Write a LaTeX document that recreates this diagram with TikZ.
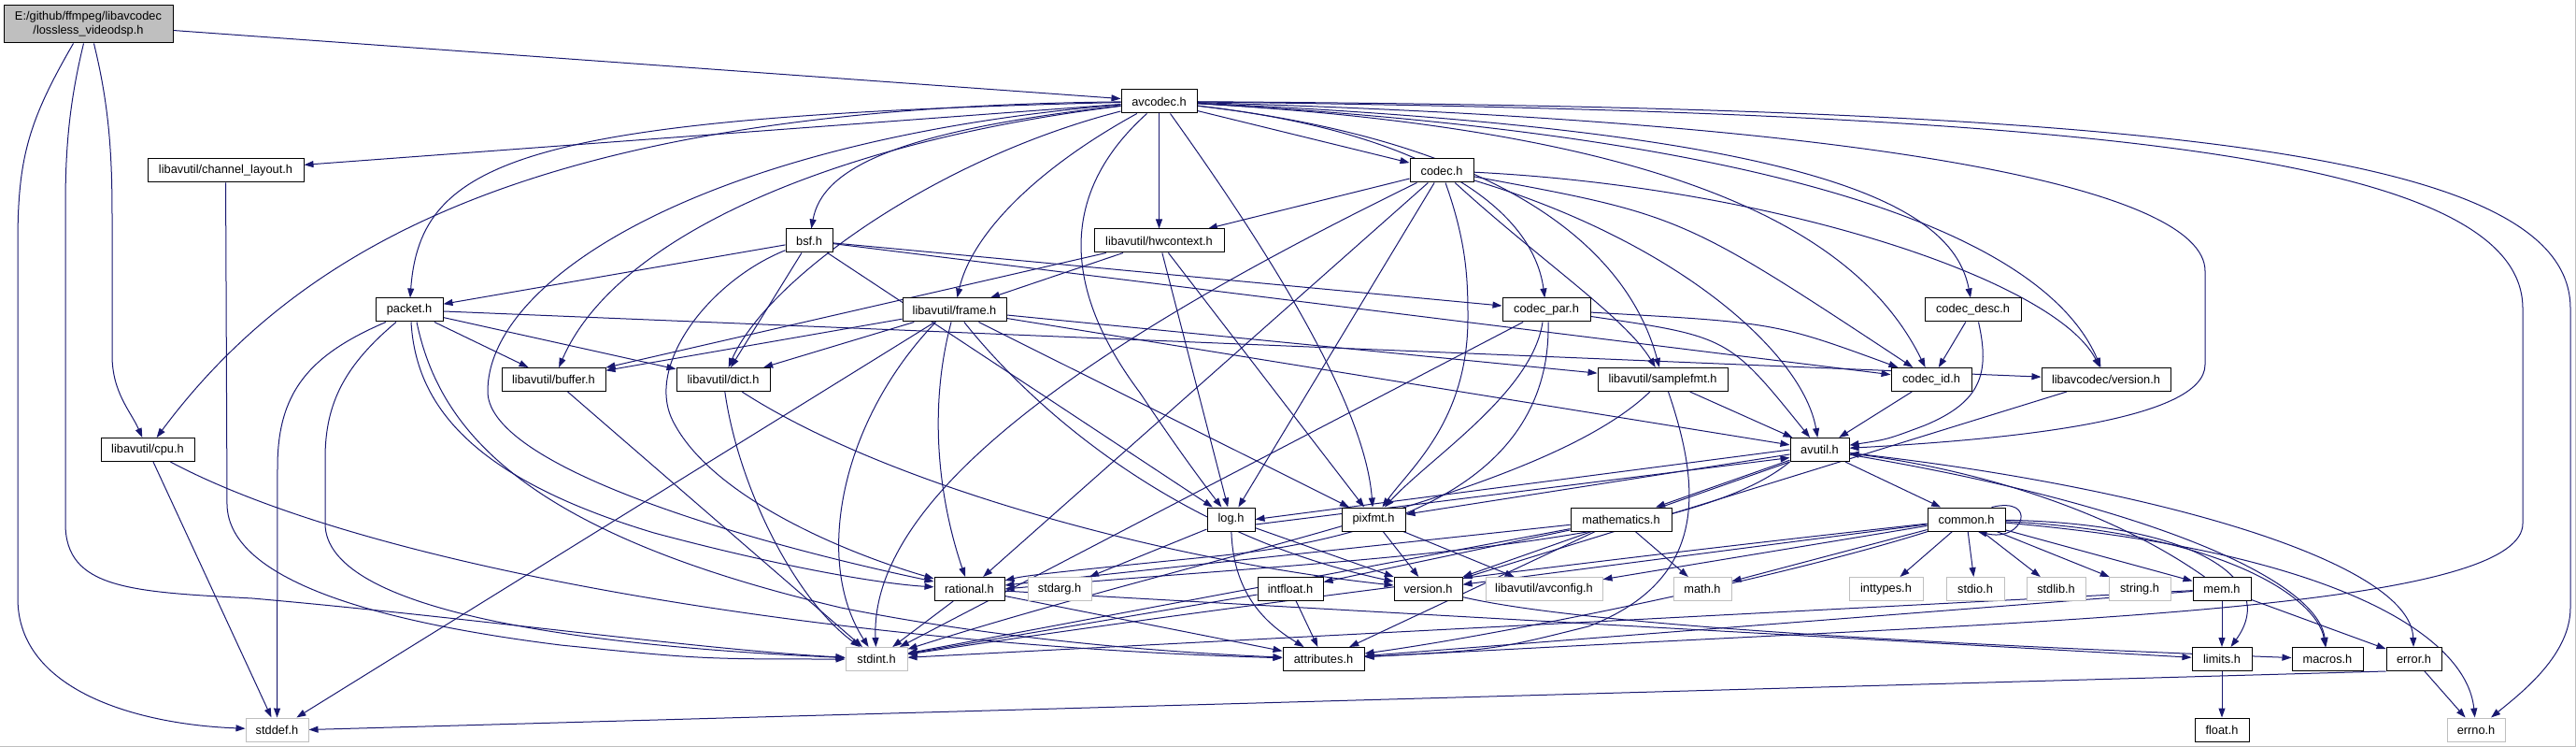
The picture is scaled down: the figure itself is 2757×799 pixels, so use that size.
\documentclass[tikz,border=0pt]{standalone}
\usepackage{fontspec}
\setmainfont{Liberation Sans}
\usetikzlibrary{arrows.meta,backgrounds}
\definecolor{edgec}{HTML}{191970}
\definecolor{sysgray}{HTML}{BFBFBF}
\begin{document}
\begin{tikzpicture}[x=1pt,y=-1pt,
  box/.style={draw=black, line width=1pt, fill=white, minimum height=25pt, inner sep=0pt, font=\fontsize{12.8}{15}\selectfont},
  sysbox/.style={box, draw=sysgray},
  rootbox/.style={box, fill=sysgray, minimum height=40pt, align=center},
  e/.style={draw=edgec, line width=1pt, -{Triangle[length=10pt,width=7pt]}}]
\useasboundingbox (0,0) rectangle (2757,799);
% ---------------- nodes ----------------
\node[rootbox, minimum width=181pt] (root) at (94.5,26) {E:/github/ffmpeg/libavcodec\\/lossless\_videodsp.h};
\node[box, minimum width=81pt]  (avcodec) at (1240.5,108.5) {avcodec.h};
\node[box, minimum width=167pt] (chl) at (241.5,182.5) {libavutil/channel\_layout.h};
\node[box, minimum width=68pt]  (codec) at (1543,182.5) {codec.h};
\node[box, minimum width=50pt]  (bsf) at (866,257.5) {bsf.h};
\node[box, minimum width=139pt] (hwc) at (1240.5,257.5) {libavutil/hwcontext.h};
\node[box, minimum width=72pt]  (packet) at (438,331.5) {packet.h};
\node[box, minimum width=111pt] (frame) at (1021.5,331.5) {libavutil/frame.h};
\node[box, minimum width=94pt]  (cpar) at (1655,331.5) {codec\_par.h};
\node[box, minimum width=103pt] (cdesc) at (2111.5,331.5) {codec\_desc.h};
\node[box, minimum width=111pt] (buffer) at (592.5,406) {libavutil/buffer.h};
\node[box, minimum width=100pt] (dict) at (774,406) {libavutil/dict.h};
\node[box, minimum width=139pt] (sfmt) at (1779.5,406) {libavutil/samplefmt.h};
\node[box, minimum width=86pt]  (cid) at (2067,406) {codec\_id.h};
\node[box, minimum width=138pt] (lvers) at (2254,406) {libavcodec/version.h};
\node[box, minimum width=100pt] (cpu) at (158,481) {libavutil/cpu.h};
\node[box, minimum width=63pt]  (avutil) at (1947.5,481) {avutil.h};
\node[box, minimum width=51pt]  (log) at (1317.5,555.5) {log.h};
\node[box, minimum width=68pt]  (pixfmt) at (1470,555.5) {pixfmt.h};
\node[box, minimum width=108pt] (math) at (1735,555.5) {mathematics.h};
\node[box, minimum width=83pt]  (common) at (2104.5,555.5) {common.h};
\node[box, minimum width=75pt]  (rational) at (1037.5,630) {rational.h};
\node[sysbox, minimum width=68pt] (stdarg) at (1134,630) {stdarg.h};
\node[box, minimum width=70pt]  (intfloat) at (1381,630) {intfloat.h};
\node[box, minimum width=73pt]  (version) at (1528.5,630) {version.h};
\node[sysbox, minimum width=125pt] (avconfig) at (1652.5,630) {libavutil/avconfig.h};
\node[sysbox, minimum width=62pt] (mathh) at (1822,630) {math.h};
\node[sysbox, minimum width=79pt] (inttypes) at (2018.5,630) {inttypes.h};
\node[sysbox, minimum width=62pt] (stdio) at (2114,630) {stdio.h};
\node[sysbox, minimum width=63pt] (stdlib) at (2200.5,630) {stdlib.h};
\node[sysbox, minimum width=66pt] (stringh) at (2290,630) {string.h};
\node[box, minimum width=62pt]  (mem) at (2378,630) {mem.h};
\node[sysbox, minimum width=66pt] (stdint) at (938,705) {stdint.h};
\node[box, minimum width=87pt]  (attr) at (1416.5,705) {attributes.h};
\node[box, minimum width=64pt]  (limits) at (2378,705) {limits.h};
\node[box, minimum width=76pt]  (macros) at (2491,705) {macros.h};
\node[box, minimum width=59pt]  (error) at (2583.5,705) {error.h};
\node[sysbox, minimum width=67pt] (stddef) at (296.5,780.5) {stddef.h};
\node[box, minimum width=58pt]  (float) at (2378,780.5) {float.h};
\node[sysbox, minimum width=62pt] (errno) at (2650,780.5) {errno.h};
% ---------------- edges ----------------
\begin{pgfonlayer}{background}
% root
\draw[e] (root) -- (avcodec);
\draw[e] ([xshift=-16]root.south) .. controls (30,130) and (19,170) .. (19,260) -- (19,640) .. controls (19,740) and (150,775) .. (stddef);
\draw[e] ([xshift=-5]root.south) .. controls (74,110) and (70,160) .. (70,220) -- (70,560) .. controls (70,630) and (140,633) .. (270,640) .. controls (500,660) and (750,695) .. (stdint);
\draw[e] ([xshift=6]root.south) .. controls (116,110) and (120,160) .. (120,230) -- (120,380) .. controls (120,420) and (140,440) .. (cpu);
% avcodec
\draw[e] (avcodec) -- (chl);
\draw[e] (avcodec) .. controls (600,115) and (330,250) .. (cpu);
\draw[e] (avcodec) .. controls (560,125) and (450,170) .. (packet);
\draw[e] (avcodec) .. controls (900,150) and (660,250) .. (buffer);
\draw[e] (avcodec) .. controls (1000,170) and (820,300) .. (dict);
\draw[e] (avcodec) .. controls (750,150) and (520,300) .. (522,420) .. controls (525,500) and (800,580) .. (rational);
\draw[e] (avcodec) .. controls (1110,180) and (1040,250) .. (frame);
\draw[e] ([xshift=-13]avcodec.south) .. controls (1140,200) and (1130,300) .. (1220,420) .. controls (1260,480) and (1290,520) .. (log);
\draw[e] (avcodec) -- (hwc);
\draw[e] ([xshift=12]avcodec.south) .. controls (1330,230) and (1460,420) .. (pixfmt);
\draw[e] (avcodec) -- (codec);
\draw[e] (avcodec) .. controls (960,140) and (880,180) .. (bsf);
\draw[e] (avcodec) .. controls (1520,140) and (1640,220) .. (cpar);
\draw[e] (avcodec) .. controls (1600,150) and (1740,260) .. (sfmt);
\draw[e] (avcodec) .. controls (1800,140) and (1990,250) .. (cid);
\draw[e] (avcodec) .. controls (1950,140) and (2090,220) .. (cdesc);
\draw[e] (avcodec) .. controls (2000,150) and (2200,280) .. (lvers);
\draw[e] (avcodec) .. controls (2000,130) and (2360,200) .. (2360,290) -- (2360,390) .. controls (2360,450) and (2150,470) .. (avutil);
\draw[e] (avcodec) .. controls (2200,120) and (2700,160) .. (2700,330) -- (2700,560) .. controls (2700,640) and (2300,660) .. (1900,680) .. controls (1700,690) .. (attr);
\draw[e] (avcodec) .. controls (2300,115) and (2751,160) .. (2751,330) -- (2751,650) .. controls (2751,700) and (2700,740) .. (errno);
% codec
\draw[e] (codec) -- (hwc);
\draw[e] (codec) .. controls (1200,350) and (930,520) .. (stdint);
\draw[e] (codec) -- (rational);
\draw[e] (codec) -- (log);
\draw[e] ([xshift=4]codec.south) .. controls (1570,260) and (1571,300) .. (1571,340) .. controls (1571,450) and (1510,500) .. (pixfmt);
\draw[e] (codec) .. controls (1650,280) and (1740,340) .. (sfmt);
\draw[e] (codec) .. controls (1800,230) .. (cid);
\draw[e] (codec) .. controls (1900,200) and (2200,300) .. (lvers);
\draw[e] (codec) .. controls (1800,260) and (1930,380) .. (avutil);
% bsf
\draw[e] (bsf) -- (packet);
\draw[e] (bsf) -- (dict);
\draw[e] (bsf) .. controls (760,300) and (690,390) .. (720,450) .. controls (760,530) and (900,590) .. (rational);
\draw[e] (bsf) -- (log);
\draw[e] (bsf) -- (cpar);
\draw[e] (bsf) -- (cid);
% hwcontext
\draw[e] (hwc) -- (buffer);
\draw[e] (hwc) -- (frame);
\draw[e] (hwc) -- (log);
\draw[e] (hwc) -- (pixfmt);
% packet
\draw[e] (packet) -- (lvers);
\draw[e] (packet) -- (dict);
\draw[e] (packet) -- (buffer);
\draw[e] ([xshift=-25]packet.south) .. controls (330,380) and (297,420) .. (297,500) -- (stddef);
\draw[e] ([xshift=-14]packet.south) .. controls (370,390) and (348,430) .. (348,490) -- (348,560) .. controls (348,650) and (600,690) .. (stdint);
\draw[e] ([xshift=2]packet.south) .. controls (445,430) and (500,510) .. (700,570) .. controls (850,610) and (950,625) .. (rational);
\draw[e] ([xshift=8]packet.south) .. controls (470,460) and (560,570) .. (900,650) .. controls (1100,690) and (1300,700) .. (attr);
% frame
\draw[e] (frame) -- (buffer);
\draw[e] (frame) -- (dict);
\draw[e] (frame) -- (stddef);
\draw[e] ([xshift=-20]frame.south) .. controls (900,450) and (870,600) .. (stdint);
\draw[e] (frame) .. controls (990,450) and (1010,550) .. (rational);
\draw[e] (frame) -- (pixfmt);
\draw[e] (frame) .. controls (1100,430) and (1250,570) .. (version);
\draw[e] (frame) -- (sfmt);
\draw[e] (frame) -- (avutil);
% codec_par
\draw[e] (cpar) -- (stdint);
\draw[e] ([xshift=-4]cpar.south) .. controls (1640,420) and (1530,490) .. (pixfmt);
\draw[e] ([xshift=2]cpar.south) .. controls (1660,480) and (1550,570) .. (1300,595) .. controls (1150,610) and (1100,615) .. (rational);
\draw[e] (cpar) .. controls (1850,360) .. (avutil);
\draw[e] (cpar) .. controls (1900,345) .. (cid);
% codec_desc
\draw[e] (cdesc) -- (cid);
\draw[e] ([xshift=6]cdesc.south) .. controls (2130,400) and (2120,430) .. (2060,455) .. controls (2020,470) .. (avutil);
% rank 5
\draw[e] (buffer) -- (stdint);
\draw[e] (dict) .. controls (790,520) and (850,640) .. (stdint);
\draw[e] (dict) .. controls (950,520) and (1250,600) .. (version);
\draw[e] (sfmt) .. controls (1650,530) and (1300,590) .. (stdint);
\draw[e] ([xshift=6]sfmt.south) .. controls (1820,520) and (1830,620) .. (1700,670) .. controls (1600,695) .. (attr);
\draw[e] (sfmt) -- (avutil);
\draw[e] (cid) -- (avutil);
\draw[e] (lvers) -- (version);
% cpu
\draw[e] (cpu) -- (stddef);
\draw[e] (cpu) .. controls (400,610) and (900,690) .. (attr);
% avutil
\draw[e] (avutil.west) -- (log.east);
\draw[e] (log.-12) -- (avutil.195);
\draw[e] (avutil) -- (pixfmt);
\draw[e] (avutil) -- (math);
\draw[e] (avutil) -- (common);
\draw[e] (avutil.south west) .. controls (1800,590) and (1400,600) .. (rational.east);
\draw[e] (avutil.south west) -- (version.north east);
\draw[e] (avutil) .. controls (2300,520) and (2580,600) .. (error);
\draw[e] (avutil) .. controls (2300,540) and (2480,620) .. (macros);
% log
\draw[e] (log) -- (stdarg);
\draw[e] (log) .. controls (1320,640) and (1360,670) .. (attr);
\draw[e] (log) -- (version);
% pixfmt
\draw[e] (pixfmt) -- (avconfig);
\draw[e] (pixfmt) -- (version);
% mathematics
\draw[e] (math) -- (mathh);
\draw[e] (math) -- (stdint);
\draw[e] (math) -- (attr);
\draw[e] (math) -- (rational);
\draw[e] (math) -- (intfloat);
% common
\draw[e] ([xshift=-15]common.north east) .. controls +(50,-12) and +(50,12) .. ([xshift=-30]common.south east);
\draw[e] (common) -- (stdio);
\draw[e] (common) -- (stdlib);
\draw[e] (common) -- (stringh);
\draw[e] (common) -- (mem);
\draw[e] (common) -- (inttypes);
\draw[e] (common) -- (mathh);
\draw[e] (common) -- (avconfig);
\draw[e] (common) -- (version);
\draw[e] (common) .. controls (1700,600) and (1300,650) .. (stdint);
\draw[e] (common) .. controls (1900,620) and (1600,680) .. (attr);
\draw[e] (common) .. controls (2350,560) and (2440,620) .. (limits);
\draw[e] (common) .. controls (2380,570) and (2480,640) .. (macros);
\draw[e] (common) .. controls (2500,590) and (2640,680) .. (errno);
% mem
\draw[e] (mem) -- (limits);
\draw[e] (mem) -- (error);
\draw[e] (mem) .. controls (2250,540) and (2100,500) .. (avutil);
\draw[e] (mem) -- (stdint);
\draw[e] (mem) -- (attr);
% rank 8
\draw[e] (rational) -- (stdint);
\draw[e] (rational) -- (attr);
\draw[e] (rational) -- (limits);
\draw[e] (intfloat) -- (stdint);
\draw[e] (intfloat) -- (attr);
\draw[e] (version) .. controls (1700,670) and (2100,690) .. (macros);
% rank 9
\draw[e] (error) -- (errno);
\draw[e] (error.south west) -- (stddef.east);
\draw[e] (limits) -- (float);
% channel_layout
\draw[e] (chl) -- (243,540) .. controls (245,620) and (400,665) .. (600,690) .. controls (750,705) .. (stdint);
\end{pgfonlayer}
\draw[sysgray, line width=1.5pt] (0,798.25) -- (2756.25,798.25) -- (2756.25,0);
\end{tikzpicture}
\end{document}
